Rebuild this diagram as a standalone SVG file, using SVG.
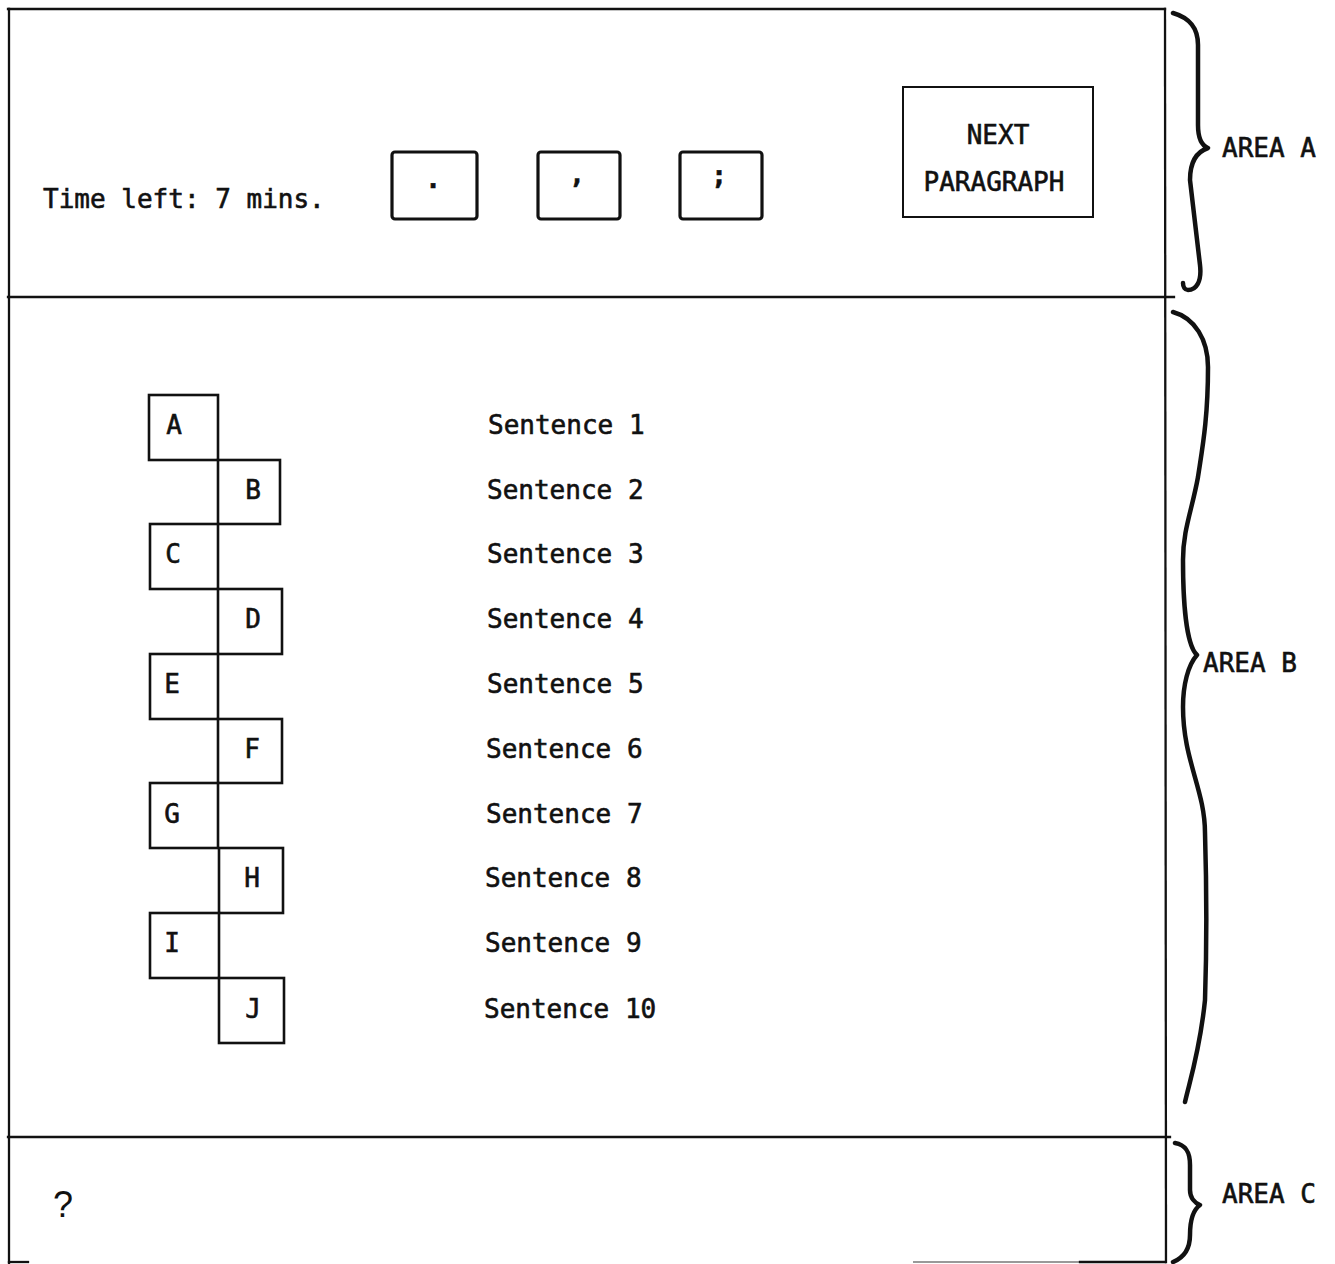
<svg xmlns="http://www.w3.org/2000/svg" width="1335" height="1264" viewBox="0 0 1335 1264">
  <style>
    .t { font-family: "DejaVu Sans Mono", "Liberation Mono", monospace; font-size: 26px; fill: #111; stroke: #111; stroke-width: 0.6; }
    .frame { stroke: #111; stroke-width: 2.3; fill: none; stroke-linecap: square; }
    .btn { stroke: #111; stroke-width: 3.2; fill: #fff; }
    .box { stroke: #111; stroke-width: 2.6; fill: #fff; }
    .brace { stroke: #111; stroke-width: 4.5; fill: none; stroke-linecap: round; stroke-linejoin: round; }
  </style>
  <rect width="1335" height="1264" fill="#fff"/>

  <g id="frame">
    <line class="frame" x1="8" y1="9" x2="1165" y2="9"/>
    <line class="frame" x1="9" y1="9" x2="9" y2="1264"/>
    <line class="frame" x1="1165" y1="9" x2="1166" y2="1262"/>
    <line class="frame" x1="8" y1="297" x2="1174" y2="297"/>
    <line class="frame" x1="8" y1="1137" x2="1170" y2="1137"/>
    <line class="frame" x1="9" y1="1262" x2="28" y2="1262"/>
    <line x1="913" y1="1262" x2="1080" y2="1262" stroke="#999" stroke-width="2"/>
    <line class="frame" x1="1080" y1="1262" x2="1165" y2="1262"/>
  </g>

  <g id="area-a">
    <text id="time-left" class="t" x="43" y="208">Time left: 7 mins.</text>
    <g id="btn-period">
      <rect class="btn" x="392" y="152" width="85" height="67" rx="3"/>
      <text class="t" x="433" y="188" text-anchor="middle" font-weight="bold">.</text>
    </g>
    <g id="btn-comma">
      <rect class="btn" x="538" y="152" width="82" height="67" rx="3"/>
      <text class="t" x="577" y="183" text-anchor="middle" font-weight="bold">,</text>
    </g>
    <g id="btn-semicolon">
      <rect class="btn" x="680" y="152" width="82" height="67" rx="3"/>
      <text class="t" x="719" y="184" text-anchor="middle" font-weight="bold">;</text>
    </g>
    <g id="btn-next">
      <rect x="903" y="87" width="190" height="130" fill="#fff" stroke="#111" stroke-width="2"/>
      <text class="t" x="998" y="144" text-anchor="middle">NEXT</text>
      <text class="t" x="994" y="191" text-anchor="middle">PARAGRAPH</text>
    </g>
  </g>

  <g id="area-b">
    <g id="box-a"><rect class="box" x="149" y="395" width="69" height="65"/><text class="t" x="174" y="434" text-anchor="middle">A</text></g>
    <g id="box-b"><rect class="box" x="218" y="460" width="62" height="64"/><text class="t" x="253" y="499" text-anchor="middle">B</text></g>
    <g id="box-c"><rect class="box" x="150" y="524" width="68" height="65"/><text class="t" x="173" y="563" text-anchor="middle">C</text></g>
    <g id="box-d"><rect class="box" x="218" y="589" width="64" height="65"/><text class="t" x="253" y="628" text-anchor="middle">D</text></g>
    <g id="box-e"><rect class="box" x="150" y="654" width="68" height="65"/><text class="t" x="172" y="693" text-anchor="middle">E</text></g>
    <g id="box-f"><rect class="box" x="218" y="719" width="64" height="64"/><text class="t" x="252" y="758" text-anchor="middle">F</text></g>
    <g id="box-g"><rect class="box" x="150" y="783" width="68" height="65"/><text class="t" x="172" y="823" text-anchor="middle">G</text></g>
    <g id="box-h"><rect class="box" x="219" y="848" width="64" height="65"/><text class="t" x="252" y="887" text-anchor="middle">H</text></g>
    <g id="box-i"><rect class="box" x="150" y="913" width="69" height="65"/><text class="t" x="172" y="952" text-anchor="middle">I</text></g>
    <g id="box-j"><rect class="box" x="219" y="978" width="65" height="65"/><text class="t" x="253" y="1018" text-anchor="middle">J</text></g>

    <g id="sentences">
      <text class="t" x="488" y="434">Sentence 1</text>
      <text class="t" x="487" y="499">Sentence 2</text>
      <text class="t" x="487" y="563">Sentence 3</text>
      <text class="t" x="487" y="628">Sentence 4</text>
      <text class="t" x="487" y="693">Sentence 5</text>
      <text class="t" x="486" y="758">Sentence 6</text>
      <text class="t" x="486" y="823">Sentence 7</text>
      <text class="t" x="485" y="887">Sentence 8</text>
      <text class="t" x="485" y="952">Sentence 9</text>
      <text class="t" x="484" y="1018">Sentence 10</text>
    </g>
  </g>

  <g id="area-c">
    <text id="question" x="53" y="1217" font-family="'Liberation Sans', Arial, sans-serif" font-size="36" fill="#111">?</text>
  </g>

  <g id="connectors">
    <path id="brace-a" class="brace" d="M1173,13 C1190,18 1198,28 1198,45 L1198,125 C1198,140 1203,146 1208,148 C1196,152 1190,162 1190,180 L1200,265 C1202,282 1196,290 1188,290 C1185,290 1183,287 1183,283"/>
    <path id="brace-b" class="brace" d="M1173,312 C1195,318 1208,340 1208,367 C1208,420 1202,450 1198,477 C1192,510 1183,530 1183,560 C1183,600 1186,645 1197,655 C1188,665 1183,685 1183,707 C1183,760 1205,790 1205,833 C1207,900 1207,940 1205,1000 C1200,1050 1190,1080 1185,1102"/>
    <path id="brace-c" class="brace" d="M1175,1143 C1186,1145 1190,1152 1190,1165 L1190,1190 C1190,1198 1195,1203 1200,1205 C1193,1210 1190,1220 1190,1235 C1190,1250 1183,1258 1173,1262"/>
  </g>

  <g id="labels">
    <text class="t" x="1222" y="157">AREA A</text>
    <text class="t" x="1203" y="672">AREA B</text>
    <text class="t" x="1222" y="1203">AREA C</text>
  </g>
</svg>
